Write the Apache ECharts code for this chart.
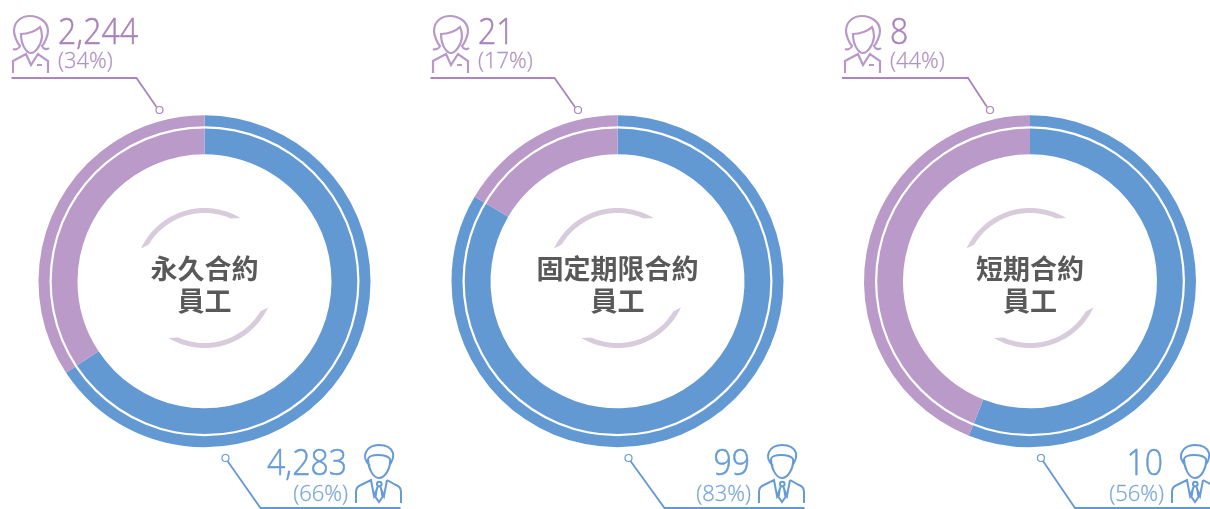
<!DOCTYPE html>
<html>
<head>
<meta charset="utf-8">
<title>員工</title>
<script src="https://cdn.jsdelivr.net/npm/echarts@6/dist/echarts.min.js"></script>
<style>
html,body{margin:0;padding:0;background:#fff;}
#main{width:1210px;height:509px;}
</style>
</head>
<body>
<div id="main"></div>
<script>
// data
var categories = ["永久合約\n員工", "固定期限合約\n員工", "短期合約\n員工"];
var maleCount = [4283, 99, 10];
var femaleCount = [2244, 21, 8];
var malePct = ["(66%)", "(83%)", "(56%)"];
var femalePct = ["(34%)", "(17%)", "(44%)"];
// 圆环上量到的比例
var maleShare = [65.7, 83.5, 56];
var femaleShare = [34.3, 16.5, 44];

// layout of each donut
var centerX = [204.5, 617.5, 1030];
var centerY = 281.3;
var blue = "#6399d3";
var purple = "#b99ac9";
var blueText = "#659bd6";
var purpleText = "#a883bb";
var arcColor = "#d8cbdc";

// leader lines, offset from center x
var femaleLeader = [[-193, -68, -45], [-187, -63, -39.5], [-188, -62, -40]];
var maleLeader = [[21, 56, 196], [11, 47, 187], [11, 45, 180]];
var femaleIconX = [0, 420, 832];
var maleIconX = [0, 403, 816];

// 图标
var femalePath = "M13 49C15 50 19 49 20 46C17 43 14 35 14 31C14 21 22 16 30 16C38 16 48 21 48 31C48 35 45 43 42 46C43 49 47 50 49 48"
	+ "M21 34C28 34 36 31 40 27C42 31 42 34 42 37C41 46 35 53 31 53C27 53 21 46 21 34Z"
	+ "M13 73L13 61L26 54L31 65L38 54L48 61L48 73M37 65L42 65";
var malePath = "M370 466C365 461 364 456 366 452C369 446 374 445 379 445C385 445 391 447 393 453C394 458 392 462 389 466"
	+ "M368 459C369 456 372 455 378 455C384 455 388 456 390 459C391 468 385 478 379 478C373 478 368 468 368 459Z"
	+ "M356 503L356 492C356 488 358 486 361 485L371 480L374 496L378 486M387 480L384 496L380 486M387 480L396 485C399 486 401 488 401 492L401 503"
	+ "M377 484A2.3 2.3 0 1 1 381.6 484A2.3 2.3 0 1 1 377 484M377 488L375.5 497L379 502L382.5 497L381 488";
echarts.graphic.registerShape("femaleIcon", echarts.graphic.extendPath(femalePath, {}));
echarts.graphic.registerShape("maleIcon", echarts.graphic.extendPath(malePath, {}));

// 中间的弧线
function arcPoints(cx, cy, rot){
	var pts = [];
	var i, a;
	for(i = 0; i <= 40; i++){
		a = (-65 + 96 * i / 40 + rot) * Math.PI / 180;
		pts.push([cx + 70 * Math.sin(a), cy - 70 * Math.cos(a)]);
	}
	for(i = 40; i >= 0; i--){
		a = (-59 + 83 * i / 40 + rot) * Math.PI / 180;
		pts.push([cx + 65 * Math.sin(a), cy - 65 * Math.cos(a)]);
	}
	return pts;
}

function numText(x, y, text, color, align){
	return {type:"text", silent:true, x:x, y:y, scaleX:0.89, style:{x:0, y:0, text:text, fill:color, stroke:color, lineWidth:0.5, align:align, verticalAlign:"middle",
		font:"300 36px 'Open Sans'"}};
}
function pctText(x, y, text, color, align){
	return {type:"text", silent:true, x:x, y:y, style:{x:0, y:0, text:text, fill:color, stroke:color, lineWidth:0.3, align:align, verticalAlign:"middle",
		font:"300 22px 'Open Sans'"}};
}

var series = [];
var graphics = [];
for(var n = 0; n < categories.length; n++){
	var cx = centerX[n];
	series.push({
		type:"pie", silent:true, startAngle:90, clockwise:true, animation:false,
		center:[cx, centerY], radius:[127, 166],
		label:{show:false}, labelLine:{show:false},
		itemStyle:{borderWidth:0},
		data:[
			{name:"男", value:maleShare[n], itemStyle:{color:blue}},
			{name:"女", value:femaleShare[n], itemStyle:{color:purple}}
		]
	});
	// 白色细环
	graphics.push({type:"ring", silent:true, z:10, shape:{cx:cx, cy:centerY, r:155, r0:152.8}, style:{fill:"#fff"}});
	// 弧线
	graphics.push({type:"polygon", silent:true, shape:{points:arcPoints(cx, 278, 0)}, style:{fill:arcColor}});
	graphics.push({type:"polygon", silent:true, shape:{points:arcPoints(cx, 278, 180)}, style:{fill:arcColor}});
	// 标题
	graphics.push({type:"text", silent:true, style:{x:cx, y:285, text:categories[n], fill:"#595959", align:"center", verticalAlign:"middle",
		font:"700 27px 'Noto Sans CJK TC'", lineHeight:32}});
	// 女
	var fl = femaleLeader[n];
	graphics.push({type:"polyline", silent:true, shape:{points:[[cx + fl[0], 78], [cx + fl[1], 78], [cx + fl[2] - 3, 107]]},
		style:{stroke:"#ab85bd", lineWidth:1.8, fill:null}});
	graphics.push({type:"circle", silent:true, shape:{cx:cx + fl[2], cy:110, r:3.5}, style:{fill:"#fff", stroke:purpleText, lineWidth:1.2}});
	graphics.push({type:"femaleIcon", silent:true, x:femaleIconX[n], y:0, style:{fill:null, stroke:"#b898c8", lineWidth:2.2}});
	graphics.push(numText(femaleIconX[n] + 58, 34, femaleCount[n].toLocaleString("en-US"), purpleText, "left"));
	graphics.push(pctText(femaleIconX[n] + 58, 62, femalePct[n], "#b193c2", "left"));
	// 男
	var ml = maleLeader[n];
	graphics.push({type:"polyline", silent:true, shape:{points:[[cx + ml[0] + 2, 461], [cx + ml[1], 508], [cx + ml[2], 508]]},
		style:{stroke:blue, lineWidth:1.8, fill:null}});
	graphics.push({type:"circle", silent:true, shape:{cx:cx + ml[0], cy:458, r:3.5}, style:{fill:"#fff", stroke:blueText, lineWidth:1.2}});
	graphics.push({type:"maleIcon", silent:true, x:maleIconX[n], y:0, style:{fill:null, stroke:blueText, lineWidth:2}});
	graphics.push(numText(maleIconX[n] + 347, 464.5, maleCount[n].toLocaleString("en-US"), blueText, "right"));
	graphics.push(pctText(maleIconX[n] + 348, 495, malePct[n], "#7ba8dc", "right"));
}

var chart = echarts.init(document.getElementById("main"));
chart.setOption({
	backgroundColor:"#fff",
	animation:false,
	series:series,
	graphic:{elements:graphics}
});
</script>
</body>
</html>
